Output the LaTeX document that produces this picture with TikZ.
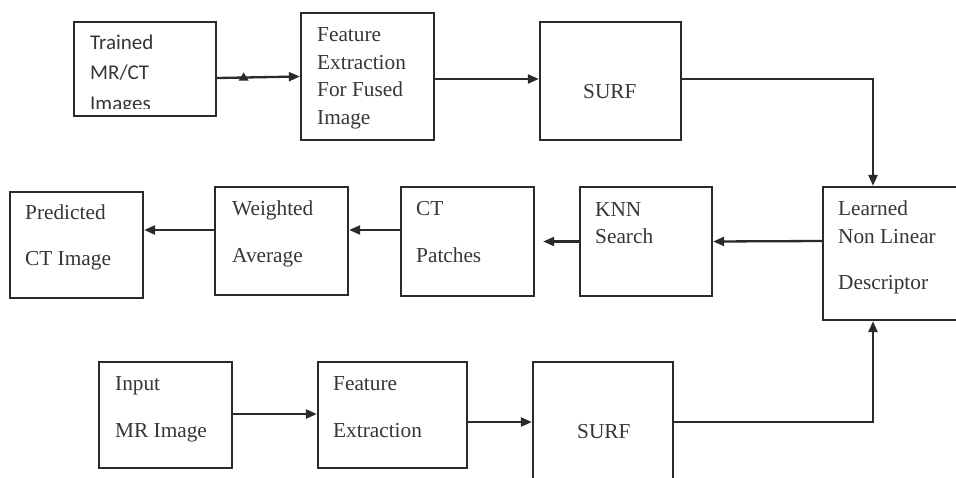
\documentclass[tikz,border=0pt]{standalone}
\usepackage{fontspec}
\setmainfont{Liberation Serif}
\newfontfamily\calib{Carlito}
\usetikzlibrary{arrows.meta}
\definecolor{ln}{HTML}{2A2A2A}
\definecolor{tx}{HTML}{363636}
\tikzset{
  box/.style={draw=ln, line width=2.3pt, inner sep=0pt, fill=none},
  lbl/.style={anchor=base west, inner sep=0pt, text=tx, font=\fontsize{21.3}{25}\selectfont},
  slbl/.style={anchor=base west, inner sep=0pt, text=tx, font=\calib\fontsize{21}{25}\selectfont},
  conn/.style={draw=ln, line width=2.3pt},
  arr/.style={conn, -{Triangle[length=11pt,width=9pt]}},
}
\begin{document}
\begin{tikzpicture}[x=1pt,y=-1pt]
\useasboundingbox (0,0) rectangle (956,477);
\fill[white] (0,0) rectangle (956,477);
\clip (0,0) rectangle (956,477);

% boxes
\node[box, minimum width=142pt, minimum height=94pt]  (trained)   at (145,69) {};
\node[box, minimum width=133pt, minimum height=127pt] (fe1)       at (367.5,76.5) {};
\node[box, minimum width=141pt, minimum height=118pt] (surf1)     at (610.5,81) {};
\node[box, minimum width=137pt, minimum height=133pt] (learned)   at (891.5,253.5) {};
\node[box, minimum width=132pt, minimum height=109pt] (knn)       at (646,241.5) {};
\node[box, minimum width=133pt, minimum height=109pt] (ct)        at (467.5,241.5) {};
\node[box, minimum width=133pt, minimum height=108pt] (weighted)  at (281.5,241) {};
\node[box, minimum width=133pt, minimum height=106pt] (predicted) at (76.5,245) {};
\node[box, minimum width=133pt, minimum height=106pt] (input)     at (165.5,415) {};
\node[box, minimum width=149pt, minimum height=106pt] (fe2)       at (392.5,415) {};
\node[box, minimum width=140pt, minimum height=128pt] (surf2)     at (603,426) {};

% texts
\node[slbl] (t1) at (90,49) {Trained};
\node[slbl] (t2) at (90,79) {MR/CT};
\begin{scope}
\clip (74,22) rectangle (216,108);
\node[slbl] (t3) at (90,110) {Images};
\end{scope}

\node[lbl] (f1) at (317,41) {Feature};
\node[lbl] (f2) at (317,69) {Extraction};
\node[lbl] (f3) at (317,96) {For Fused};
\node[lbl] (f4) at (317,124) {Image};

\node[lbl] (s1) at (583,98) {SURF};

\node[lbl] (l1) at (838,215) {Learned};
\node[lbl] (l2) at (838,243) {Non Linear};
\node[lbl] (l3) at (838,289) {Descriptor};

\node[lbl] (k1) at (595,216) {KNN};
\node[lbl] (k2) at (595,243) {Search};

\node[lbl] (c1) at (416,215) {CT};
\node[lbl] (c2) at (416,262) {Patches};

\node[lbl] (w1) at (232,215) {Weighted};
\node[lbl] (w2) at (232,262) {Average};

\node[lbl] (p1) at (25,219) {Predicted};
\node[lbl] (p2) at (25,265) {CT Image};

\node[lbl] (i1) at (115,390) {Input};
\node[lbl] (i2) at (115,437) {MR Image};

\node[lbl] (g1) at (333,390) {Feature};
\node[lbl] (g2) at (333,437) {Extraction};

\node[lbl] (s2) at (577,438) {SURF};

% connectors
\draw[arr] ([yshift=-9pt]trained.east) -- coordinate[pos=0.32] (mk) (fe1.west);
\fill[ln] (mk) ++(-5,3) -- ++(10,0) -- ++(-5,-8) -- cycle;
\draw[arr] ([yshift=-2.5pt]fe1.east) -- ([yshift=2pt]surf1.west);
\draw[arr] ([yshift=2pt]surf1.east) -| ([xshift=-18.5pt]learned.north);
\draw[arr] ([yshift=12.5pt]learned.west) -- (knn.east);
\draw[arr] (knn.west) -- ([xshift=8pt]ct.east);
\draw[arr] ([yshift=11.5pt]ct.west) -- ([yshift=11pt]weighted.east);
\draw[arr] ([yshift=11pt]weighted.west) -- ([yshift=15pt]predicted.east);
\draw[arr] ([yshift=1pt]input.east) -- ([yshift=1pt]fe2.west);
\draw[arr] ([yshift=-7pt]fe2.east) -- ([yshift=4pt]surf2.west);
\draw[arr] ([yshift=4pt]surf2.east) -| ([xshift=-18.5pt]learned.south);
\end{tikzpicture}
\end{document}
